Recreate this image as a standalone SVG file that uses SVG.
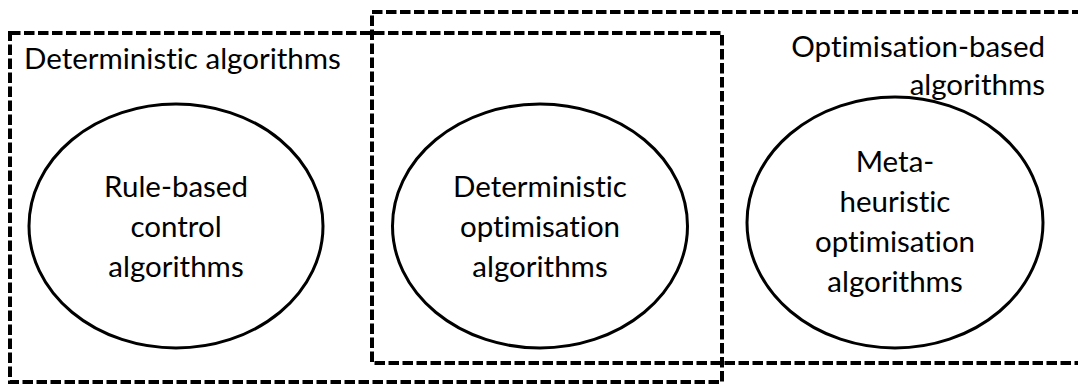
<svg xmlns="http://www.w3.org/2000/svg" width="1078" height="385" viewBox="0 0 1078 385">
<style>
.box{fill:none;stroke:#000;stroke-width:4;stroke-dasharray:10.5 3.5}
.ell{fill:none;stroke:#000;stroke-width:3}
text{font-family:Lato,"Open Sans","Liberation Sans",sans-serif;font-size:29.5px;fill:#000;font-variant-ligatures:none}
.c{text-anchor:middle}
</style>
<rect width="1078" height="385" fill="#fff"/>
<g id="group-deterministic">
<rect class="box" x="10" y="33" width="712" height="349"/>
<text x="24" y="69">Deterministic algorithms</text>
</g>
<g id="group-optimisation">
<rect class="box" x="372" y="12" width="720" height="351"/>
<text x="1045" y="57" text-anchor="end">Optimisation-based</text>
<text x="1045" y="95" text-anchor="end">algorithms</text>
</g>
<g id="node-rule-based">
<ellipse class="ell" cx="176" cy="226" rx="147" ry="122"/>
<text class="c" x="176" y="197">Rule-based</text>
<text class="c" x="176" y="237">control</text>
<text class="c" x="176" y="277">algorithms</text>
</g>
<g id="node-deterministic-opt">
<ellipse class="ell" cx="540" cy="226" rx="147.5" ry="122"/>
<text class="c" x="540" y="197">Deterministic</text>
<text class="c" x="540" y="237">optimisation</text>
<text class="c" x="540" y="277">algorithms</text>
</g>
<g id="node-metaheuristic">
<ellipse class="ell" cx="895" cy="222.5" rx="148" ry="125.5"/>
<text class="c" x="895" y="172">Meta-</text>
<text class="c" x="895" y="212">heuristic</text>
<text class="c" x="895" y="252">optimisation</text>
<text class="c" x="895" y="292">algorithms</text>
</g>
<g id="connectors"></g>
</svg>
